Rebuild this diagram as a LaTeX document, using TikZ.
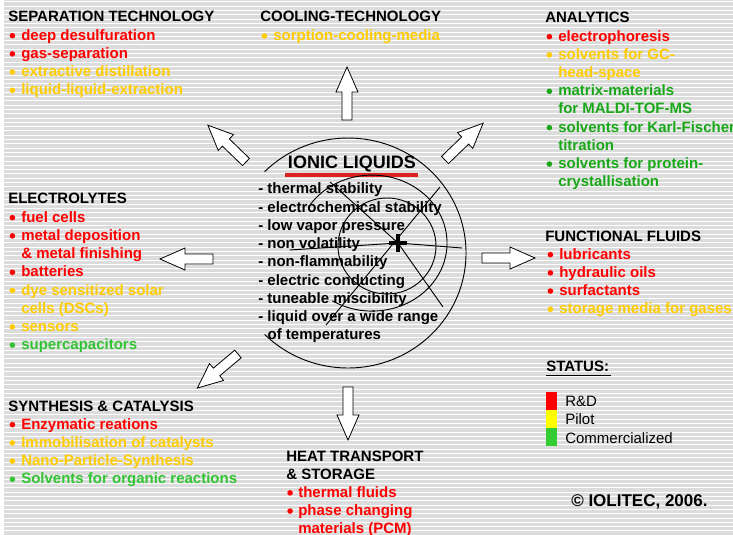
\documentclass[tikz,border=0pt]{standalone}
\usepackage{fontspec}
\setmainfont{Liberation Sans}
\definecolor{rd}{HTML}{FF0000}
\definecolor{yl}{HTML}{FFCC00}
\definecolor{gn}{HTML}{18A818}
\definecolor{lgn}{HTML}{33C433}
\definecolor{bgg}{HTML}{DCDCDC}
\definecolor{ulred}{HTML}{DD2222}
\definecolor{lgyel}{HTML}{FFFF00}
\definecolor{lggrn}{HTML}{33CC33}
% round bullet dot in the current text colour
\newcommand{\dotmark}{\tikz[baseline={(0pt,-3.4pt)}]\fill[fill=.] (0pt,0pt) circle[radius=2.1pt];}
\newcommand{\bl}{\makebox[9.75pt][l]{\hspace*{1pt}\dotmark}}
\newcommand{\blh}{\makebox[8.25pt][l]{\dotmark}}
\newcommand{\ind}{\hspace*{9.75pt}}
\begin{document}
\begin{tikzpicture}[x=0.75pt,y=-0.75pt,
  txt/.style={anchor=base west, inner sep=0pt, font=\fontsize{11.25}{13.5}\selectfont\bfseries},
  hdr/.style={txt, text=black},
  plain/.style={anchor=base west, inner sep=0pt, font=\fontsize{11.25}{13.5}\selectfont},
  ring/.style={line width=0.7pt},
  blockarrow/.pic={\draw[fill=white,line width=0.6pt,line join=miter]
     (0,-5) -- (28,-5) -- (28,-11) -- (53,0) -- (28,11) -- (28,5) -- (0,5) -- cycle;}]
\useasboundingbox (0,0) rectangle (733,535);
% striped background
\fill[white] (0,0) rectangle (733,535);
\fill[bgg] (4,0) rectangle (733,535);
\foreach \k in {0,...,124}
  \fill[white] (4,{\k*4.3+1.5}) rectangle (733,{\k*4.3+2.5});

% separation technology
\node[hdr] (sep) at (8,22) {SEPARATION TECHNOLOGY};
\node[txt,text=rd] (sep1) at (8,40.2) {\bl deep desulfuration};
\node[txt,text=rd] (sep2) at (8,58.4) {\bl gas-separation};
\node[txt,text=yl] (sep3) at (8,76.6) {\bl extractive distillation};
\node[txt,text=yl] (sep4) at (8,94.8) {\bl liquid-liquid-extraction};

% cooling technology
\node[hdr] (cool) at (260,22) {COOLING-TECHNOLOGY};
\node[txt,text=yl] (cool1) at (260,40.5) {\bl sorption-cooling-media};

% analytics
\node[hdr] (ana) at (545,23) {ANALYTICS};
\node[txt,text=rd] (ana1) at (545,41.2) {\bl electrophoresis};
\node[txt,text=yl] (ana2) at (545,59.4) {\bl solvents for GC-};
\node[txt,text=yl] (ana2b) at (545,77.6) {\ind head-space};
\node[txt,text=gn] (ana3) at (545,95.8) {\bl matrix-materials};
\node[txt,text=gn] (ana3b) at (545,114) {\ind for MALDI-TOF-MS};
\node[txt,text=gn] (ana4) at (545,132.2) {\bl solvents for Karl-Fischer};
\node[txt,text=gn] (ana4b) at (545,150.4) {\ind titration};
\node[txt,text=gn] (ana5) at (545,168.6) {\bl solvents for protein-};
\node[txt,text=gn] (ana5b) at (545,186.8) {\ind crystallisation};

% electrolytes
\node[hdr] (ele) at (8,204) {ELECTROLYTES};
\node[txt,text=rd] (ele1) at (8,222.2) {\bl fuel cells};
\node[txt,text=rd] (ele2) at (8,240.4) {\bl metal deposition};
\node[txt,text=rd] (ele2b) at (8,258.6) {\ind \& metal finishing};
\node[txt,text=rd] (ele3) at (8,276.8) {\bl batteries};
\node[txt,text=yl] (ele4) at (8,295) {\bl dye sensitized solar};
\node[txt,text=yl] (ele4b) at (8,313.2) {\ind cells (DSCs)};
\node[txt,text=yl] (ele5) at (8,331.4) {\bl sensors};
\node[txt,text=lgn] (ele6) at (8,349.6) {\bl supercapacitors};

% functional fluids
\node[hdr] (fun) at (545,241) {FUNCTIONAL FLUIDS};
\node[txt,text=rd] (fun1) at (546,259.2) {\bl lubricants};
\node[txt,text=rd] (fun2) at (546,277.4) {\bl hydraulic oils};
\node[txt,text=rd] (fun3) at (546,295.6) {\bl surfactants};
\node[txt,text=yl] (fun4) at (546,313.8) {\bl storage media for gases};

% synthesis and catalysis
\node[hdr] (syn) at (8,411) {SYNTHESIS \& CATALYSIS};
\node[txt,text=rd] (syn1) at (8,429.2) {\bl Enzymatic reations};
\node[txt,text=yl] (syn2) at (8,447.4) {\bl Immobilisation of catalysts};
\node[txt,text=yl] (syn3) at (8,465.6) {\bl Nano-Particle-Synthesis};
\node[txt,text=lgn] (syn4) at (8,483.8) {\bl Solvents for organic reactions};

% heat transport
\node[hdr] (heat) at (286,461) {HEAT TRANSPORT};
\node[hdr] (heatb) at (286,479.2) {\& STORAGE};
\node[txt,text=rd] (heat1) at (287,497.4) {\blh thermal fluids};
\node[txt,text=rd] (heat2) at (287,515.6) {\blh phase changing};
\node[txt,text=rd] (heat2b) at (287,533.8) {\hspace*{8.25pt}materials (PCM)};

% status legend
\node[hdr] (status) at (546,371) {STATUS:};
\draw[line width=1.1pt] (546,375.5) -- (611,375.5);
\fill[rd] (546,392) rectangle (557,410);
\fill[lgyel] (546,410) rectangle (557,428);
\fill[lggrn] (546,428) rectangle (557,446);
\node[plain] (rnd) at (565,406) {R\&D};
\node[plain] (pilot) at (565,424) {Pilot};
\node[plain] (comm) at (565,443) {Commercialized};

\node[anchor=base west, inner sep=0pt, font=\fontsize{12.75}{15}\selectfont\bfseries] (copy) at (571,506) {© IOLITEC, 2006.};

% central title and properties
\node[anchor=base, inner sep=0pt, font=\fontsize{13.5}{16}\selectfont\bfseries] (il) at (352,168.5) {IONIC LIQUIDS};
\fill[ulred] (285,173.5) rectangle (418,177);
\node[txt] (p1) at (258,194) {- thermal stability};
\node[txt] (p2) at (258,212.2) {- electrochemical stability};
\node[txt] (p3) at (258,230.4) {- low vapor pressure};
\node[txt] (p4) at (258,248.6) {- non volatility};
\node[txt] (p5) at (258,266.8) {- non-flammability};
\node[txt] (p6) at (258,285) {- electric conducting};
\node[txt] (p7) at (258,303.2) {- tuneable miscibility};
\node[txt] (p8) at (258,321.4) {- liquid over a wide range};
\node[txt] (p8b) at (258,339.6) {\hspace*{7pt}of temperatures};

% rings and crossing lines
\coordinate (hub) at (398,243);
\draw[ring] (264.6,171.7) arc[start angle=-135, end angle=135, x radius=118, y radius=115];
\draw[ring] (310.6,204.1) arc[start angle=-145, end angle=122, x radius=75, y radius=68];
\draw[ring] (387,246) ellipse[x radius=49, y radius=48];
\draw[ring] (330,182) -- (hub) -- (443,307);
\draw[ring] (440,187) -- (326,325);
\draw[ring] (290,250) -- (hub) -- (462,248);
\draw[line width=3pt] ([xshift=-6.5pt]hub) -- ([xshift=6.5pt]hub)
                      ([yshift=-6.5pt]hub) -- ([yshift=6.5pt]hub);

% block arrows pointing outwards
\pic[rotate=90]  at (347,120) {blockarrow};
\pic[rotate=44]  at (445,160) {blockarrow};
\pic[rotate=136] at (246,162) {blockarrow};
\pic[rotate=180] at (213,259) {blockarrow};
\pic[rotate=0]   at (482,258) {blockarrow};
\pic[rotate=220] at (238,354) {blockarrow};
\pic[rotate=270] at (348,387) {blockarrow};
\end{tikzpicture}
\end{document}
